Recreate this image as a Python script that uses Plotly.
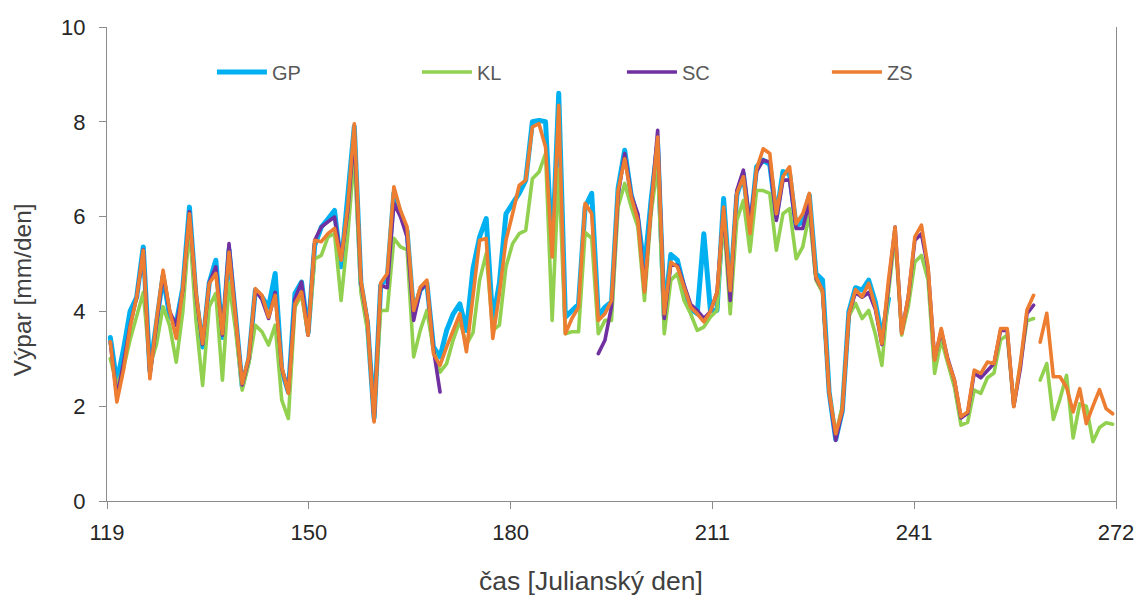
import plotly.graph_objects as go

# Daily evaporation (mm/day), one value per Julian day starting at FIRST_DAY.
FIRST_DAY = 119
AXIS_END = 272
SECOND_RECORD_DAY = 260  # KL and ZS continue from here as a separate record

GP = [
    3.45, 2.50, 3.20, 4.00, 4.30, 5.36, 2.75, 3.75, 4.75, 3.90,
    3.75, 4.50, 6.20, 4.30, 3.25, 4.60, 5.08, 3.45, 5.30, 3.90,
    2.42, 3.00, 4.45, 4.30, 4.09, 4.80, 2.76, 2.30, 4.38, 4.62,
    3.55, 5.40, 5.78, 5.95, 6.13, 4.94, 6.30, 7.90, 4.60, 3.75,
    1.75, 4.55, 4.70, 6.50, 6.06, 5.70, 3.95, 4.45, 4.60, 3.25,
    3.04, 3.60, 3.95, 4.16, 3.60, 4.90, 5.57, 5.96, 3.80, 4.60,
    6.06, 6.28, 6.49, 6.77, 8.00, 8.03, 8.00, 5.20, 8.60, 3.88,
    4.02, 4.15, 6.20, 6.49, 3.90, 4.09, 4.20, 6.60, 7.40, 6.45,
    5.95, 4.90, 6.34, 7.54, 3.90, 5.20, 5.08, 4.50, 4.05, 3.95,
    5.64, 4.02, 4.02, 6.38, 4.40, 6.45, 6.90, 5.70, 7.05, 7.19,
    7.10, 6.00, 6.95, 6.90, 5.80, 5.90, 6.45, 4.80, 4.66, 2.30,
    1.30, 1.90, 4.00, 4.50, 4.45, 4.66, 4.20, 3.45, 4.27,
] + [None] * 34

KL = [
    3.00, 2.45, 2.80, 3.40, 3.90, 4.40, 2.85, 3.30, 4.10, 3.70,
    2.93, 4.00, 5.80, 3.80, 2.44, 4.10, 4.38, 2.55, 4.60, 3.60,
    2.34, 2.90, 3.71, 3.57, 3.29, 3.71, 2.13, 1.74, 4.09, 4.35,
    3.50, 5.11, 5.18, 5.57, 5.64, 4.23, 5.60, 7.30, 4.40, 3.60,
    1.85, 4.02, 4.02, 5.54, 5.36, 5.30, 3.04, 3.60, 4.02, 3.20,
    2.72, 2.90, 3.40, 3.80, 3.30, 3.55, 4.66, 5.22, 3.60, 3.71,
    4.94, 5.43, 5.64, 5.71, 6.80, 6.94, 7.33, 3.81, 7.00, 3.53,
    3.57, 3.57, 5.67, 5.54, 3.53, 3.81, 3.81, 6.20, 6.70, 6.20,
    5.78, 4.23, 6.06, 7.12, 3.53, 4.66, 4.80, 4.23, 3.95, 3.60,
    3.67, 3.88, 4.02, 6.00, 3.95, 5.92, 6.34, 5.26, 6.55, 6.55,
    6.49, 5.29, 6.06, 6.17, 5.11, 5.36, 6.06, 4.66, 4.40, 2.30,
    1.40, 2.00, 3.90, 4.17, 3.85, 4.02, 3.53, 2.86, 4.40, 5.60,
    3.50, 4.10, 5.04, 5.18, 4.66, 2.69, 3.40, 2.90, 2.40, 1.60,
    1.66, 2.34, 2.27, 2.60, 2.70, 3.40, 3.50, 2.00, 2.90, 3.80,
    3.85, 2.55, 2.90, 1.72, 2.15, 2.65, 1.33, 2.05, 2.00, 1.25,
    1.55, 1.65, 1.62,
]

SC = [
    3.35, 2.20, 2.90, 3.70, 4.30, 5.30, 2.65, 3.75, 4.80, 4.00,
    3.70, 4.45, 6.10, 4.35, 3.30, 4.60, 4.94, 3.50, 5.43, 3.90,
    2.45, 3.00, 4.45, 4.25, 3.85, 4.40, 2.80, 2.30, 4.27, 4.62,
    3.50, 5.50, 5.78, 5.89, 5.99, 5.10, 6.10, 7.75, 4.60, 3.80,
    1.70, 4.55, 4.50, 6.28, 6.00, 5.57, 3.81, 4.45, 4.60, 3.20,
    2.30,
] + [None] * 23 + [
    3.11, 3.39, 4.10, 6.45, 7.33, 6.45,
    6.06, 4.45, 6.20, 7.82, 3.85, 5.00, 4.97, 4.55, 4.15, 4.02,
    3.85, 4.00, 4.40, 6.15, 4.23, 6.55, 6.98, 5.85, 6.95, 7.19,
    7.15, 5.92, 6.77, 6.77, 5.75, 5.75, 6.31, 4.70, 4.45, 2.30,
    1.28, 1.90, 3.95, 4.40, 4.30, 4.40, 4.05, 3.30, 4.60, 5.78,
    3.55, 4.30, 5.50, 5.64, 4.90, 3.00, 3.60, 3.00, 2.55, 1.75,
    1.85, 2.70, 2.60, 2.75, 2.90, 3.60, 3.60, 2.00, 2.80, 3.95,
    4.13,
] + [None] * 12

ZS = [
    3.36, 2.09, 2.76, 3.67, 4.30, 5.29, 2.58, 3.81, 4.87, 4.02,
    3.43, 4.50, 6.06, 4.40, 3.32, 4.59, 4.80, 3.53, 5.25, 3.90,
    2.48, 3.04, 4.48, 4.34, 3.88, 4.34, 2.83, 2.27, 4.16, 4.41,
    3.50, 5.50, 5.47, 5.64, 5.75, 5.08, 6.20, 7.96, 4.66, 3.81,
    1.67, 4.60, 4.80, 6.63, 6.13, 5.78, 4.02, 4.51, 4.66, 3.11,
    2.86, 3.25, 3.60, 3.95, 3.15, 4.30, 5.50, 5.54, 3.43, 4.38,
    5.50, 6.06, 6.66, 6.77, 7.89, 7.96, 7.47, 5.15, 8.35, 3.53,
    3.85, 4.09, 6.28, 6.06, 3.81, 3.95, 4.23, 6.55, 7.22, 6.41,
    5.92, 4.41, 6.20, 7.68, 3.95, 5.04, 4.94, 4.51, 4.09, 3.95,
    3.78, 4.00, 4.40, 6.20, 4.44, 6.49, 6.84, 5.64, 7.01, 7.43,
    7.33, 6.06, 6.84, 7.05, 5.85, 6.06, 6.49, 4.73, 4.44, 2.30,
    1.42, 1.92, 3.95, 4.46, 4.31, 4.59, 4.10, 3.32, 4.66, 5.78,
    3.53, 4.31, 5.57, 5.82, 4.94, 2.97, 3.64, 2.97, 2.55, 1.78,
    1.88, 2.76, 2.69, 2.93, 2.90, 3.64, 3.64, 1.99, 2.90, 4.03,
    4.34, 3.35, 3.96, 2.62, 2.62, 2.40, 1.88, 2.37, 1.63, 2.00,
    2.35, 1.95, 1.84,
]

SERIES = [
    ("GP", GP, "#00B0F0", 5.0),
    ("KL", KL, "#92D050", 3.6),
    ("SC", SC, "#7030A0", 3.6),
    ("ZS", ZS, "#ED7D31", 3.6),
]

X_TITLE = "čas [Julianský den]"
Y_TITLE = "Výpar [mm/den]"


def to_xy(values):
    """Each daily total is plotted at the middle of its day; the line is
    broken where the second record begins."""
    xs, ys = [], []
    for k, v in enumerate(values):
        day = FIRST_DAY + k
        if day == SECOND_RECORD_DAY:
            xs.append(None)
            ys.append(None)
        xs.append(day + 0.5)
        ys.append(v)
    return xs, ys


fig = go.Figure()
for name, values, color, width in SERIES:
    xs, ys = to_xy(values)
    fig.add_trace(go.Scatter(
        x=xs, y=ys, name=name, mode="lines",
        line=dict(color=color, width=width),
        connectgaps=False,
    ))

FONT = "Liberation Sans, Arial, sans-serif"
AXIS_GREY = "#8C8C8C"
EPS = 1e-6

# Five equal intervals between the first and last day, labelled to whole days.
x_ticks = [FIRST_DAY + k * (AXIS_END - FIRST_DAY) / 5 for k in range(6)]

fig.update_layout(
    width=1134, height=597,
    margin=dict(l=107, r=18, t=27, b=96, autoexpand=False),
    paper_bgcolor="white", plot_bgcolor="white",
    font=dict(family=FONT, color="#262626"),
    showlegend=True,
    legend=dict(
        orientation="h", x=0.104, y=0.905, xanchor="left", yanchor="middle",
        entrywidth=140, entrywidthmode="pixels", itemwidth=50,
        font=dict(family=FONT, size=20, color="#595959"),
        bgcolor="rgba(0,0,0,0)", traceorder="normal",
    ),
    annotations=[
        dict(text=X_TITLE, xref="paper", yref="paper", x=0.48, y=-0.168,
             xanchor="center", yanchor="middle", showarrow=False,
             font=dict(family=FONT, size=26.5, color="#404040")),
        dict(text=Y_TITLE, xref="paper", yref="paper", x=-0.084, y=0.445,
             xanchor="center", yanchor="middle", showarrow=False,
             textangle=-90,
             font=dict(family=FONT, size=24.5, color="#404040")),
    ],
)

fig.update_xaxes(
    range=[FIRST_DAY - EPS, AXIS_END + EPS],
    tickmode="array", tickvals=x_ticks,
    ticktext=[f"{v:.0f}" for v in x_ticks],
    ticks="outside", ticklen=7, tickwidth=1.3, tickcolor=AXIS_GREY,
    showline=True, linecolor=AXIS_GREY, linewidth=1.3,
    showgrid=False, zeroline=False,
    tickfont=dict(family=FONT, size=22, color="#262626"),
    ticklabelstandoff=4, ticklabeloverflow="allow",
)

fig.update_yaxes(
    range=[0, 10], tickmode="linear", tick0=0, dtick=2,
    ticks="outside", ticklen=7, tickwidth=1.3, tickcolor=AXIS_GREY,
    showline=True, mirror=True, linecolor=AXIS_GREY, linewidth=1.3,
    showgrid=False, zeroline=False,
    tickfont=dict(family=FONT, size=22, color="#262626"),
    ticklabelstandoff=9,
)

# Rounded joins on the series lines.
ROUND_JOINS = (
    "document.querySelectorAll('.scatterlayer path.js-line')"
    ".forEach(function(p){p.style.strokeLinejoin='round';"
    "p.style.strokeLinecap='round';});"
)

fig.write_html("out.html", post_script=ROUND_JOINS)
